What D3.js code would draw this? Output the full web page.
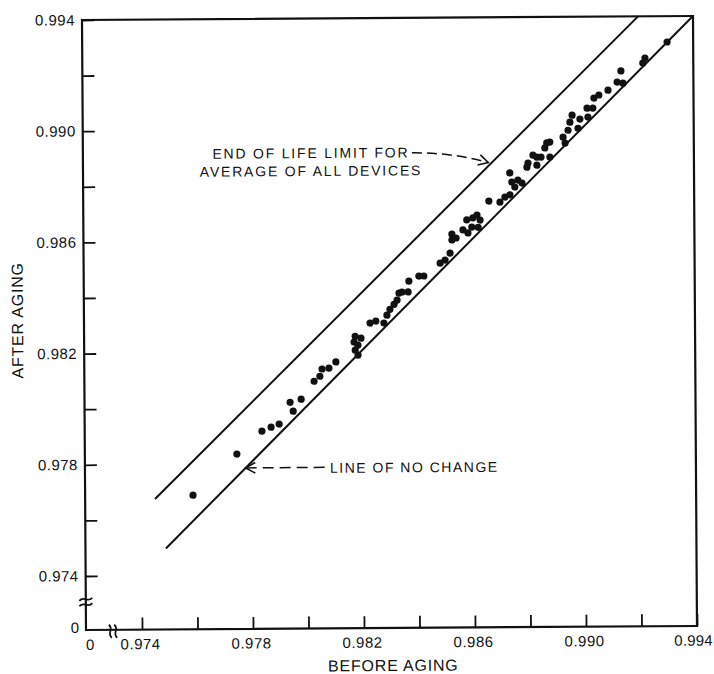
<!DOCTYPE html>
<html>
<head>
<meta charset="utf-8">
<script src="https://cdn.jsdelivr.net/npm/d3@7"></script>
<style>
  html, body { margin: 0; padding: 0; background: #fff; }
  svg { display: block; }
  text { font-family: "Liberation Sans", Arial, Helvetica, sans-serif; fill: #111; }
</style>
</head>
<body>
<svg id="chart" width="714" height="674"></svg>
<script>
// Ratio measured on each device before aging (x) and after aging (y)
const beforeAging = [
  0.97587, 0.97746, 0.97837, 0.97870, 0.97899, 0.97939, 0.97950, 0.97979, 0.98026, 0.98047,
  0.98055, 0.98080, 0.98105, 0.98175, 0.98196, 0.98171, 0.98185, 0.98175, 0.98185, 0.98229,
  0.98250, 0.98279, 0.98290, 0.98301, 0.98316, 0.98327, 0.98334, 0.98345, 0.98367, 0.98370,
  0.98406, 0.98424, 0.98483, 0.98501, 0.98519, 0.98526, 0.98526, 0.98541, 0.98566, 0.98580,
  0.98584, 0.98598, 0.98602, 0.98617, 0.98628, 0.98621, 0.98660, 0.98700, 0.98718, 0.98736,
  0.98736, 0.98743, 0.98754, 0.98765, 0.98780, 0.98798, 0.98802, 0.98820, 0.98834, 0.98834,
  0.98849, 0.98863, 0.98870, 0.98881, 0.98881, 0.98929, 0.98936, 0.98947, 0.98954, 0.98962,
  0.98983, 0.98990, 0.99016, 0.99019, 0.99037, 0.99041, 0.99059, 0.99092, 0.99125, 0.99139,
  0.99146, 0.99218, 0.99226, 0.99306
];
const afterAging = [
  0.97688, 0.97835, 0.97917, 0.97931, 0.97942, 0.98020, 0.97988, 0.98031, 0.98095, 0.98113,
  0.98139, 0.98142, 0.98164, 0.98256, 0.98249, 0.98235, 0.98224, 0.98206, 0.98188, 0.98303,
  0.98310, 0.98303, 0.98331, 0.98352, 0.98370, 0.98385, 0.98410, 0.98414, 0.98414, 0.98453,
  0.98471, 0.98471, 0.98517, 0.98528, 0.98553, 0.98600, 0.98621, 0.98607, 0.98636, 0.98672,
  0.98625, 0.98646, 0.98679, 0.98689, 0.98671, 0.98645, 0.98739, 0.98735, 0.98753, 0.98761,
  0.98840, 0.98807, 0.98789, 0.98814, 0.98803, 0.98860, 0.98875, 0.98903, 0.98867, 0.98896,
  0.98896, 0.98929, 0.98947, 0.98950, 0.98896, 0.98967, 0.98946, 0.98992, 0.99021, 0.99046,
  0.98999, 0.99032, 0.99071, 0.99039, 0.99071, 0.99107, 0.99118, 0.99135, 0.99164, 0.99204,
  0.99160, 0.99232, 0.99250, 0.99307
];

const xTickValues = [0.974, 0.976, 0.978, 0.980, 0.982, 0.984, 0.986, 0.988, 0.990, 0.992, 0.994];
const yTickValues = [0.974, 0.976, 0.978, 0.980, 0.982, 0.984, 0.986, 0.988, 0.990, 0.992, 0.994];
const xTickLabels = ["0.974", "0.978", "0.982", "0.986", "0.990", "0.994"];
const yTickLabels = ["0.974", "0.978", "0.982", "0.986", "0.990", "0.994"];

// Reference lines, as [before, after] end points
const noChangeLine = [[0.97488, 0.97497], [0.994, 0.994]];
const endOfLifeLine = [[0.97450, 0.97675], [0.99202, 0.994]];

const xTitle = "BEFORE AGING";
const yTitle = "AFTER AGING";
const eolLabel = ["END OF LIFE LIMIT FOR", "AVERAGE OF ALL DEVICES"];
const noChangeLabel = "LINE OF NO CHANGE";

const frame = { left: 82, top: 20, right: 693, bottom: 630 };
const ink = "#111";

const svg = d3.select("#chart");
const g = svg.append("g").attr("transform", "rotate(-0.376, 82, 20)");

const x = d3.scaleLinear().domain([0.974, 0.994]).range([138, 693]);
const y = d3.scaleLinear().domain([0.974, 0.994]).range([576, 20]);
const fmt = d3.format(".3f");

// Axes with inward ticks
const yAxis = d3.axisLeft(y)
  .tickValues(yTickValues)
  .tickSizeInner(-12).tickSizeOuter(0).tickPadding(7)
  .tickFormat(d => yTickLabels.includes(fmt(d)) ? fmt(d) : "");
const gy = g.append("g").attr("transform", `translate(${frame.left},0)`).call(yAxis);
gy.select(".domain").remove();
gy.attr("font-size", 15);
gy.selectAll(".tick line").attr("stroke", ink).attr("stroke-width", 1.8);
gy.selectAll(".tick text").attr("letter-spacing", 0.5);

const xAxis = d3.axisBottom(x)
  .tickValues(xTickValues)
  .tickSizeInner(-12).tickSizeOuter(0).tickPadding(9)
  .tickFormat(d => xTickLabels.includes(fmt(d)) ? fmt(d) : "");
const gx = g.append("g").attr("transform", `translate(0,${frame.bottom})`).call(xAxis);
gx.select(".domain").remove();
gx.attr("font-size", 15);
gx.selectAll(".tick line").attr("stroke", ink).attr("stroke-width", 1.8);
gx.selectAll(".tick text")
  .attr("x", d => d >= 0.994 ? -4 : -2)
  .attr("letter-spacing", d => d >= 0.994 ? 0.2 : 0.5);

// Zero labels at the origin
g.append("text").attr("x", 86).attr("y", 650).attr("text-anchor", "middle")
  .attr("font-size", 15).text("0");
g.append("text").attr("x", 75).attr("y", 633).attr("text-anchor", "end")
  .attr("font-size", 15).text("0");

// Frame
g.append("path")
  .attr("d", `M${frame.left},${frame.top}H${frame.right}V${frame.bottom}H${frame.left}Z`)
  .attr("fill", "none").attr("stroke", ink).attr("stroke-width", 2.2);

// Axis break marks
function breakMark(cx, cy, vertical) {
  const gap = 2.7;
  [-gap, gap].forEach(d => {
    const p = vertical
      ? `M${cx + d - 1.5},${cy - 6} C${cx + d + 4},${cy - 2} ${cx + d - 4},${cy + 3} ${cx + d + 1.5},${cy + 7}`
      : `M${cx - 6.5},${cy + d + 1.5} C${cx - 2},${cy + d - 4} ${cx + 2},${cy + d + 4} ${cx + 6.5},${cy + d - 1.5}`;
    g.append("path").attr("d", p).attr("fill", "none")
      .attr("stroke", ink).attr("stroke-width", 1.8);
  });
}
breakMark(frame.left, 602, false);
breakMark(109, 631, true);

// Reference lines
const line = d3.line().x(d => x(d[0])).y(d => y(d[1]));
[noChangeLine, endOfLifeLine].forEach(l => {
  g.append("path").attr("d", line(l)).attr("fill", "none")
    .attr("stroke", ink).attr("stroke-width", 2);
});

// Device points
g.append("g").selectAll("circle")
  .data(beforeAging.map((b, i) => [b, afterAging[i]]))
  .join("circle")
  .attr("cx", d => x(d[0])).attr("cy", d => y(d[1]))
  .attr("r", 3.6).attr("fill", ink);

// Point on a reference line at a given "before" value
function onLine(l, bx) {
  const t = (bx - l[0][0]) / (l[1][0] - l[0][0]);
  return [x(bx), y(l[0][1] + t * (l[1][1] - l[0][1]))];
}
function chevron(tip, angle) {
  const len = 11, spread = 0.5;
  const a1 = angle + Math.PI - spread, a2 = angle + Math.PI + spread;
  g.append("path")
    .attr("d", `M${tip[0] + len * Math.cos(a1)},${tip[1] + len * Math.sin(a1)} L${tip[0]},${tip[1]} L${tip[0] + len * Math.cos(a2)},${tip[1] + len * Math.sin(a2)}`)
    .attr("fill", "none").attr("stroke", ink).attr("stroke-width", 1.6);
}

// End of life annotation
const eolTip = onLine(endOfLifeLine, 0.98666);
const eolTextX = 310, eolTextY = 159.5;
g.append("text").attr("x", eolTextX).attr("y", eolTextY).attr("text-anchor", "middle")
  .attr("font-size", 14).attr("letter-spacing", 1.8).text(eolLabel[0]);
g.append("text").attr("x", eolTextX).attr("y", eolTextY + 18).attr("text-anchor", "middle")
  .attr("font-size", 14).attr("letter-spacing", 1.8).text(eolLabel[1]);
const eolStart = [411, 155];
const eolCtrl = [452, 155];
const eolEnd = [eolTip[0] - 2, eolTip[1] - 1.5];
g.append("path")
  .attr("d", `M${eolStart[0]},${eolStart[1]} Q${eolCtrl[0]},${eolCtrl[1]} ${eolEnd[0]},${eolEnd[1]}`)
  .attr("fill", "none").attr("stroke", ink).attr("stroke-width", 1.5)
  .attr("stroke-dasharray", "10,5");
chevron(eolEnd, Math.atan2(eolEnd[1] - eolCtrl[1], eolEnd[0] - eolCtrl[0]));

// Line of no change annotation
const ncTip = onLine(noChangeLine, 0.97772);
const ncTip2 = [ncTip[0] + 1.5, ncTip[1] - 1.5];
g.append("path")
  .attr("d", `M${ncTip2[0]},${ncTip2[1]} H322`)
  .attr("fill", "none").attr("stroke", ink).attr("stroke-width", 1.5)
  .attr("stroke-dasharray", "11,6");
chevron(ncTip2, Math.PI);
g.append("text").attr("x", 327).attr("y", ncTip2[1] + 5.5)
  .attr("font-size", 14).attr("letter-spacing", 1.5).text(noChangeLabel);

// Axis titles
g.append("text").attr("x", 389).attr("y", 673).attr("text-anchor", "middle")
  .attr("font-size", 16).attr("letter-spacing", 0.8).text(xTitle);
g.append("text").attr("transform", "translate(21,320) rotate(-90)")
  .attr("text-anchor", "middle")
  .attr("font-size", 16).attr("letter-spacing", 0.8).text(yTitle);
</script>
</body>
</html>
